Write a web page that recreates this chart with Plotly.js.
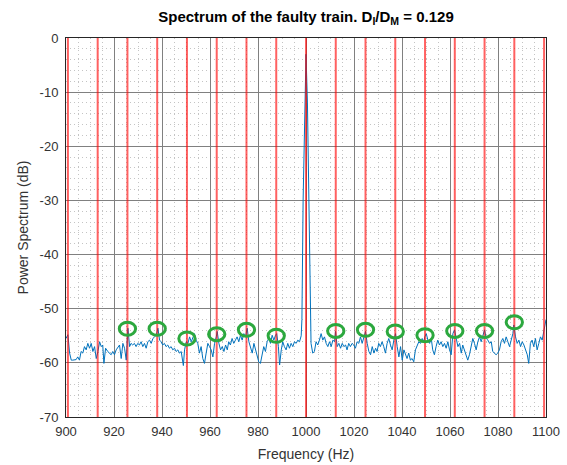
<!DOCTYPE html>
<html>
<head>
<meta charset="utf-8">
<script src="https://cdn.plot.ly/plotly-3.0.1.min.js"></script>
<style>html,body{margin:0;padding:0;background:#fff;}#chart{width:567px;height:465px;}</style>
</head>
<body>
<div id="chart"></div>
<script>
// Spectrum trace (frequency in Hz, power in dB)
const freqHz = [900.0,900.8,901.5,902.2,902.8,903.5,904.2,904.9,905.6,906.3,907.0,907.7,908.4,909.1,909.8,910.5,911.2,911.9,912.6,913.3,914.0,914.7,915.3,915.8,916.5,917.4,918.1,918.8,919.5,920.2,920.9,921.6,922.3,923.0,923.7,924.4,925.1,925.8,926.5,927.1,927.8,928.5,929.2,929.9,930.6,931.3,932.0,932.7,933.4,934.1,934.8,935.5,936.2,936.9,937.6,938.3,939.0,939.6,940.3,941.0,941.7,942.4,943.1,943.8,944.5,945.2,945.9,946.6,947.3,948.0,948.4,948.9,949.4,950.1,950.8,951.5,952.2,952.8,953.5,954.2,954.9,955.6,956.3,957.0,957.7,958.4,959.1,959.8,960.5,961.2,961.9,962.6,963.0,963.7,964.4,965.1,965.8,966.5,967.2,967.8,968.5,969.2,969.9,970.6,971.3,972.0,972.7,973.4,974.1,974.8,975.5,976.2,976.9,977.6,978.3,979.0,979.6,980.3,981.0,981.7,982.4,983.1,983.8,984.5,985.2,985.9,986.6,987.3,987.8,988.5,989.0,989.7,990.3,991.0,991.7,992.4,993.1,993.8,994.5,995.2,995.9,996.6,997.3,998.0,998.3,998.8,999.4,1000.0,1000.6,1001.2,1001.7,1002.1,1002.8,1003.5,1004.2,1004.9,1005.6,1006.3,1007.0,1007.7,1008.4,1009.1,1009.8,1010.5,1011.2,1011.9,1012.3,1013.0,1013.7,1014.4,1015.1,1015.8,1016.5,1017.1,1017.8,1018.5,1019.2,1019.9,1020.6,1021.3,1022.0,1022.7,1023.4,1024.1,1024.8,1025.5,1026.2,1026.9,1027.6,1028.3,1029.0,1029.6,1030.3,1031.0,1031.7,1032.4,1033.1,1033.8,1034.5,1035.2,1035.9,1036.6,1037.3,1038.0,1038.7,1039.4,1040.1,1040.8,1041.5,1042.1,1042.8,1043.5,1044.2,1044.9,1045.6,1046.3,1047.0,1047.7,1048.4,1049.1,1049.5,1050.1,1050.8,1051.5,1052.2,1052.8,1053.5,1054.2,1054.9,1055.6,1056.3,1057.0,1057.7,1058.4,1059.1,1059.8,1060.5,1061.2,1061.9,1062.6,1063.3,1064.0,1064.7,1065.3,1066.0,1066.7,1067.4,1068.1,1068.8,1069.5,1070.2,1070.9,1071.6,1072.3,1073.0,1073.7,1074.4,1075.1,1075.8,1076.5,1077.2,1077.8,1078.5,1079.2,1079.9,1080.6,1081.3,1082.0,1082.7,1083.4,1084.1,1084.8,1085.5,1086.2,1086.6,1087.3,1088.0,1088.7,1089.4,1090.1,1090.8,1091.5,1092.2,1092.8,1093.5,1094.2,1094.9,1095.6,1096.3,1097.0,1097.7,1098.4,1099.1,1099.8,1100.0];
const powerDb = [-55.5,-54.8,-58.2,-59.5,-59.5,-59.5,-59.4,-58.9,-59.5,-57.9,-58.2,-57.0,-57.6,-56.4,-57.3,-56.4,-57.9,-57.0,-59.2,-57.9,-56.1,-57.0,-56.7,-60.1,-57.3,-57.9,-58.2,-58.5,-57.9,-58.5,-57.6,-57.0,-56.7,-59.2,-56.4,-57.3,-59.5,-53.6,-57.0,-56.4,-56.7,-56.4,-57.0,-56.4,-56.7,-56.1,-57.0,-56.4,-57.3,-56.1,-55.8,-56.4,-55.5,-55.2,-54.9,-53.6,-55.8,-56.1,-56.7,-56.4,-57.0,-56.7,-57.3,-57.0,-57.6,-57.3,-57.9,-57.6,-58.2,-57.9,-59.0,-60.5,-57.6,-56.1,-56.4,-55.2,-56.1,-55.5,-54.6,-55.8,-56.4,-58.2,-57.0,-59.2,-60.1,-58.2,-56.4,-57.0,-57.6,-58.9,-56.4,-55.2,-54.2,-56.4,-57.6,-57.0,-57.9,-56.7,-57.6,-56.1,-56.7,-55.5,-56.4,-55.8,-55.2,-56.1,-54.9,-55.8,-54.6,-55.2,-53.6,-56.1,-57.0,-58.2,-56.4,-57.6,-58.9,-59.8,-60.1,-58.2,-57.0,-57.9,-56.1,-55.5,-56.4,-54.9,-55.8,-54.9,-54.6,-57.0,-60.4,-57.6,-56.1,-57.0,-57.6,-56.4,-57.3,-56.4,-57.0,-56.1,-56.4,-55.8,-56.1,-55.0,-52.0,-30.0,-12.0,-3.0,-12.0,-30.0,-52.0,-56.4,-58.2,-57.9,-56.1,-56.7,-55.8,-54.6,-55.8,-55.2,-56.4,-57.0,-56.1,-57.0,-55.8,-56.1,-54.2,-57.0,-56.4,-57.3,-56.4,-57.0,-56.7,-57.6,-56.4,-57.0,-56.4,-56.7,-57.3,-56.1,-56.4,-55.2,-56.4,-55.5,-54.2,-56.4,-57.9,-58.5,-57.0,-58.2,-57.3,-57.9,-56.4,-57.0,-56.1,-57.0,-58.2,-56.4,-55.5,-56.7,-57.6,-55.8,-54.6,-57.0,-58.9,-57.0,-59.5,-57.6,-58.5,-59.2,-58.2,-59.5,-59.2,-59.8,-57.6,-57.0,-56.1,-56.4,-55.5,-56.1,-55.2,-54.6,-55.8,-56.4,-55.5,-57.6,-58.5,-57.0,-55.8,-56.7,-56.1,-57.0,-56.4,-57.3,-56.1,-57.6,-58.5,-54.6,-53.9,-55.5,-57.0,-56.4,-58.2,-56.7,-57.6,-58.9,-59.5,-58.5,-56.7,-55.5,-56.4,-57.6,-56.1,-55.2,-56.1,-54.9,-53.9,-55.5,-55.8,-56.4,-56.1,-57.9,-58.2,-58.5,-58.2,-57.6,-56.1,-55.5,-56.4,-55.2,-56.1,-57.0,-55.8,-54.6,-53.0,-55.2,-56.4,-55.8,-57.0,-56.1,-56.7,-57.6,-58.5,-60.1,-56.4,-55.8,-57.0,-55.5,-57.6,-56.4,-55.2,-55.8,-54.2,-53.0,-52.0];

// Sideband (fault) frequencies marked with red lines, Hz
const sidebandFreqs = [900.8,913.2,925.6,938.0,950.4,962.8,975.2,987.6,1000.0,1012.4,1024.8,1037.2,1049.6,1062.0,1074.4,1086.8,1099.2];
// Circled sideband peaks: frequency (Hz) and level (dB)
const peakFreqs = [925.6,938.0,950.4,962.8,975.2,987.6,1012.4,1024.8,1037.2,1049.6,1062.0,1074.4,1086.8];
const peakLevels = [-53.7,-53.7,-55.5,-54.7,-53.9,-55.0,-54.1,-53.9,-54.2,-54.9,-54.1,-54.1,-52.5];

const xTicks = [900,920,940,960,980,1000,1020,1040,1060,1080,1100];
const yTicks = [0,-10,-20,-30,-40,-50,-60,-70];

const shapes = [];
sidebandFreqs.forEach(f => shapes.push({
  type:'line', xref:'x', yref:'paper', x0:f, x1:f, y0:0, y1:1,
  line:{color:'rgba(255,0,0,0.62)', width:2}, layer:'above'
}));
const rx = 3.4, ry = 1.2;
peakFreqs.forEach((f,i) => shapes.push({
  type:'circle', xref:'x', yref:'y', x0:f-rx, x1:f+rx, y0:peakLevels[i]-ry, y1:peakLevels[i]+ry,
  line:{color:'rgb(44,168,62)', width:3}, layer:'above'
}));

const trace = {
  x: freqHz, y: powerDb, type:'scatter', mode:'lines',
  line:{color:'#0072BD', width:1}, hoverinfo:'skip'
};

const font = "Arial, 'Liberation Sans', Helvetica, sans-serif";
const layout = {
  width:567, height:465,
  margin:{l:66, r:21, t:38, b:48, pad:0},
  paper_bgcolor:'#fff', plot_bgcolor:'#fff',
  font:{family:font, size:13, color:'#333'},
  showlegend:false,
  title:{text:'<b>Spectrum of the faulty train. D<sub>I</sub>/D<sub>M</sub> = 0.129</b>',
         font:{family:font, size:15, color:'#000'},
         xref:'paper', x:0.5, xanchor:'center', yref:'container', y:0.965, yanchor:'middle'},
  xaxis:{range:[900,1100], tickvals:xTicks, ticktext:xTicks.map(String),
         showgrid:true, gridcolor:'#808080', gridwidth:1,
         minor:{dtick:5, tick0:900, showgrid:true, gridcolor:'#c4c4c4', griddash:'1px,3px', gridwidth:1},
         showline:true, mirror:true, linecolor:'#262626', linewidth:1,
         zeroline:false, ticks:'', ticklen:0, automargin:false, ticklabelstandoff:2,
         tickfont:{family:font, size:13, color:'#333'},
         title:{text:'Frequency (Hz)', font:{family:font, size:14, color:'#333'}, standoff:11}},
  yaxis:{range:[-70,0], tickvals:yTicks, ticktext:yTicks.map(String),
         showgrid:true, gridcolor:'#808080', gridwidth:1,
         minor:{dtick:2, tick0:0, showgrid:true, gridcolor:'#c4c4c4', griddash:'1px,3px', gridwidth:1},
         showline:true, mirror:true, linecolor:'#262626', linewidth:1,
         zeroline:false, ticks:'', ticklen:0, automargin:false, ticklabelstandoff:4,
         tickfont:{family:font, size:13, color:'#333'},
         title:{text:'Power Spectrum (dB)', font:{family:font, size:14, color:'#333'}, standoff:7}},
  shapes: shapes
};

Plotly.newPlot('chart', [trace], layout, {displayModeBar:false, staticPlot:true});
</script>
</body>
</html>
